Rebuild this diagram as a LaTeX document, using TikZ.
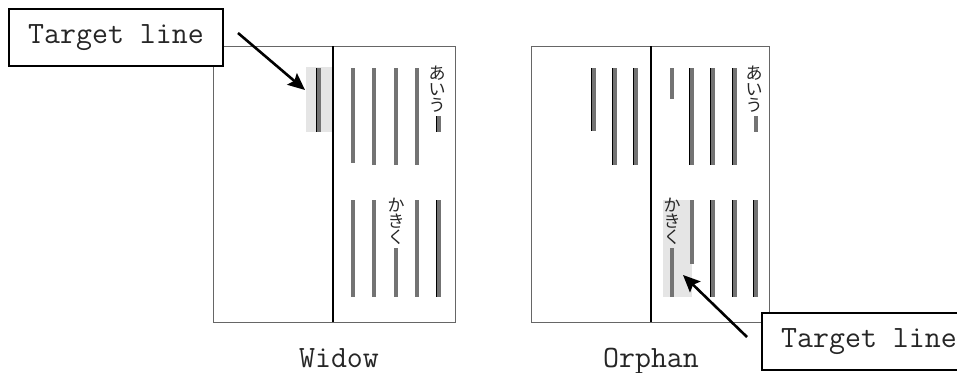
\documentclass[tikz,border=0pt]{standalone}
\usepackage{fontspec}
\newfontfamily\jpfont{Noto Sans CJK JP}
\usetikzlibrary{arrows.meta}
\begin{document}
\begin{tikzpicture}[x=1pt,y=-1pt,
 page/.style={draw=black!60,line width=0.9pt},
 divider/.style={draw=black,line width=1.3pt},
 hl/.style={fill=black!10,draw=none,inner sep=0pt,outer sep=0pt,anchor=north west},
 bar/.style={draw=black!55,line width=3.4pt},
 dbar/.style={bar,preaction={draw=black,line width=0.7pt,transform canvas={xshift=-2.5pt}}},
 tbox/.style={draw=black,line width=2.6pt,fill=white,minimum width=214pt,minimum height=57pt,inner sep=0pt,font=\ttfamily\fontsize{31}{31}\selectfont,text=black!85},
 lbl/.style={font=\ttfamily\fontsize{31}{31}\selectfont,text=black!85,anchor=base},
 jp/.style={font=\jpfont\fontsize{17}{15.8}\selectfont,align=center,anchor=north,inner sep=0pt,text=black!85},
 arr/.style={line width=2.6pt,-{Stealth[length=17pt,width=15pt,inset=3pt]}}]
\useasboundingbox (0,0) rectangle (957,372);
\clip (0,0) rectangle (957,372);

% ---------- Widow ----------
\draw[page] (213,46) rectangle (455,322);
\draw[divider] (333,46) -- (333,322);
\node[hl,minimum width=26pt,minimum height=65pt] (hlw) at (306,67) {};
\draw[dbar] (319,68) -- (319,132);
\draw[bar] (353,68) -- (353,163);
\foreach \x in {374,396,417} \draw[bar] (\x,68) -- (\x,165);
\node[jp] (w1) at (437,66) {あ\\い\\う};
\draw[dbar] (439,116) -- (439,132);
\foreach \x in {353,374,417} \draw[bar] (\x,200) -- (\x,297);
\node[jp] (w2) at (396,198) {か\\き\\く};
\draw[bar] (396,248) -- (396,297);
\draw[dbar] (439,200) -- (439,297);
\node[lbl] (widow) at (339,367) {Widow};

% ---------- Orphan ----------
\draw[page] (531,46) rectangle (769,322);
\draw[divider] (651,46) -- (651,322);
\draw[dbar] (594,68) -- (594,131);
\foreach \x in {615,636} \draw[dbar] (\x,68) -- (\x,165);
\draw[bar] (672,68) -- (672,99);
\foreach \x in {692,713,735} \draw[dbar] (\x,68) -- (\x,165);
\node[jp] (o1) at (754,66) {あ\\い\\う};
\draw[bar] (756,116) -- (756,132);
\node[hl,minimum width=29pt,minimum height=97pt] (hlo) at (663,200) {};
\node[jp] (o2) at (672,198) {か\\き\\く};
\draw[bar] (672,248) -- (672,297);
\draw[bar] (692,200) -- (692,264);
\foreach \x in {713,735,756} \draw[dbar] (\x,200) -- (\x,297);
\node[lbl] (orphan) at (651,367) {Orphan};

% ---------- callouts ----------
\node[tbox] (box1) at (116,37.5) {Target line};
\node[tbox] (box2) at (869,341.5) {Target line};
\coordinate (a1s) at (238,33);
\coordinate (a1e) at (305,90);
\coordinate (a2s) at (747,337);
\coordinate (a2e) at (683,275);
\draw[arr] (a1s) -- (a1e);
\draw[arr] (a2s) -- (a2e);
\end{tikzpicture}
\end{document}
